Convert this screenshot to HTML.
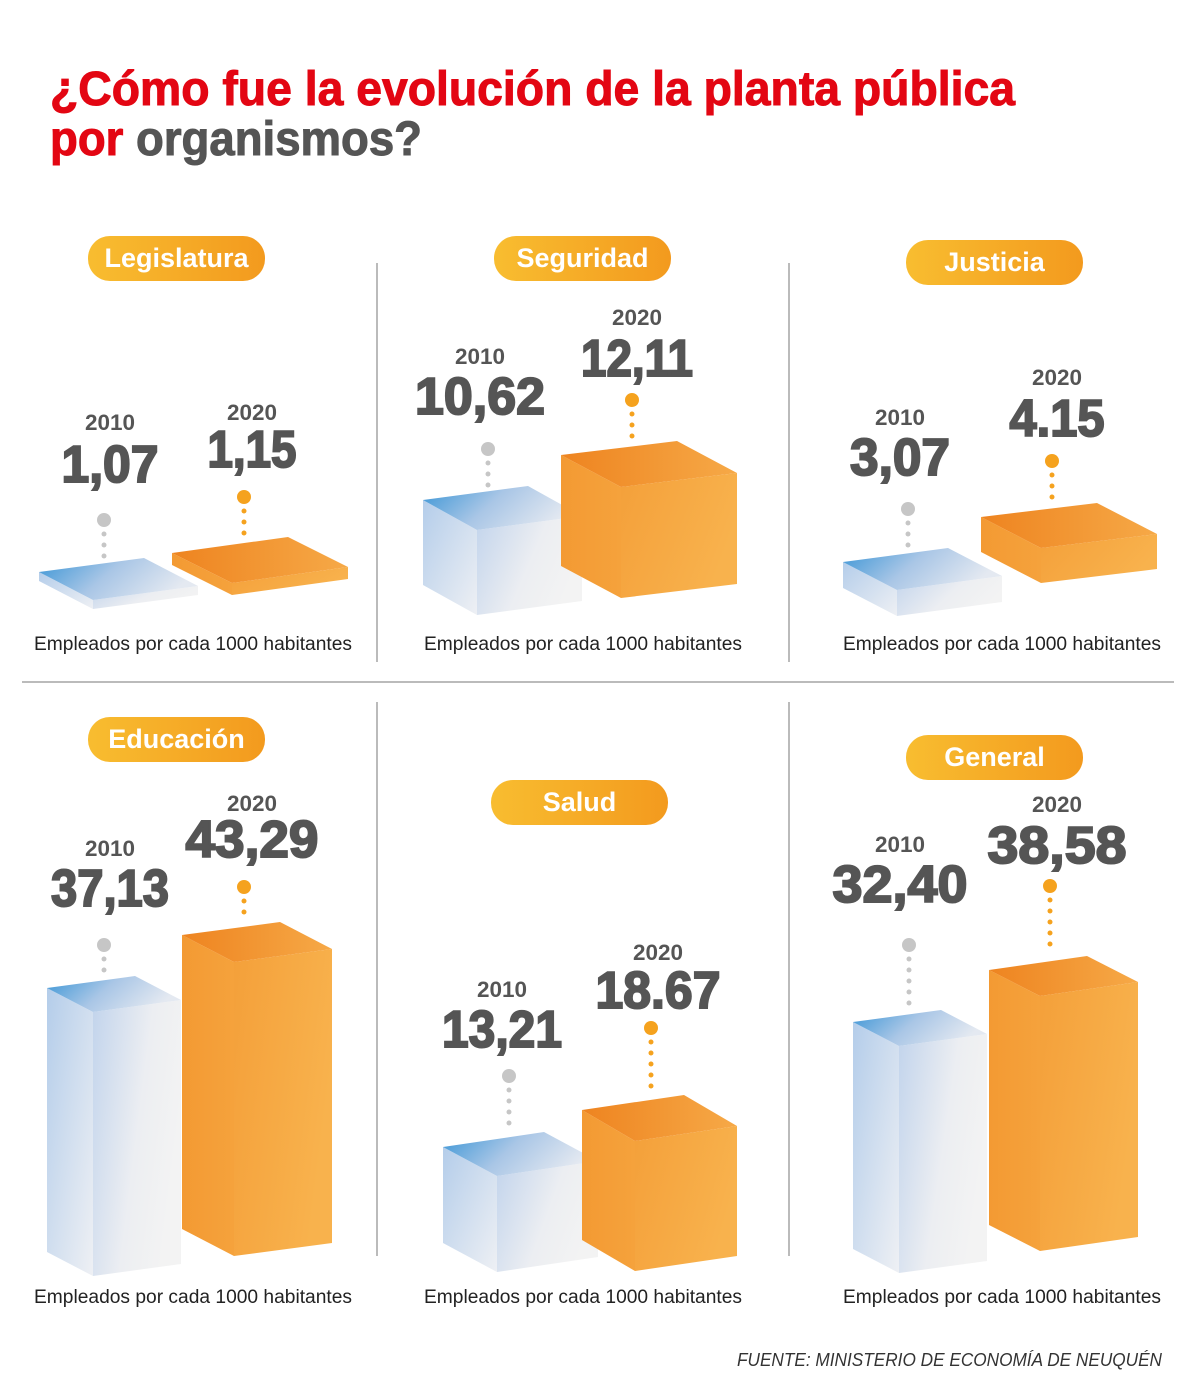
<!DOCTYPE html>
<html><head><meta charset="utf-8"><style>
html,body{margin:0;padding:0;background:#fff}
svg{display:block}
text{font-family:"Liberation Sans",sans-serif}
</style></head><body>
<svg id="s" width="1200" height="1392" viewBox="0 0 1200 1392" xmlns="http://www.w3.org/2000/svg">
<defs>
<linearGradient id="pill" x1="0" x2="1"><stop offset="0" stop-color="#f8bd30"/><stop offset="1" stop-color="#f39a1e"/></linearGradient>
<linearGradient id="bt" x1="0" x2="1" y1="0" y2="0.3"><stop offset="0" stop-color="#3a95d6"/><stop offset="0.5" stop-color="#a9c6e6"/><stop offset="1" stop-color="#e4e9f1"/></linearGradient>
<linearGradient id="bl" x1="0" x2="1" y1="0" y2="1"><stop offset="0" stop-color="#b4cdea"/><stop offset="1" stop-color="#eef0f4"/></linearGradient>
<linearGradient id="bf" x1="0" x2="1" y1="0" y2="0.4"><stop offset="0" stop-color="#c2d4ec"/><stop offset="0.6" stop-color="#eceef2"/><stop offset="1" stop-color="#f3f3f3"/></linearGradient>
<linearGradient id="ot" x1="0" x2="1"><stop offset="0" stop-color="#ee8420"/><stop offset="1" stop-color="#f6a947"/></linearGradient>
<linearGradient id="ol" x1="0" x2="1"><stop offset="0" stop-color="#f39a33"/><stop offset="1" stop-color="#f5a23c"/></linearGradient>
<linearGradient id="of" x1="0" x2="1" y1="0" y2="0.4"><stop offset="0" stop-color="#f4a03a"/><stop offset="1" stop-color="#f8b24d"/></linearGradient>
</defs>
<text x="50" y="105" font-size="48" font-weight="bold" fill="#e30613" stroke="#e30613" stroke-width="1" textLength="965" lengthAdjust="spacingAndGlyphs">¿Cómo fue la evolución de la planta pública</text>
<text x="50" y="155" font-size="48" font-weight="bold" stroke-width="1" textLength="372" lengthAdjust="spacingAndGlyphs"><tspan fill="#e30613" stroke="#e30613">por </tspan><tspan fill="#555" stroke="#555">organismos?</tspan></text>
<g stroke="#777" stroke-width="1">
<line x1="377" y1="263" x2="377" y2="662"/><line x1="789" y1="263" x2="789" y2="662"/>
<line x1="22" y1="682" x2="1174" y2="682"/>
<line x1="377" y1="702" x2="377" y2="1256"/><line x1="789" y1="702" x2="789" y2="1256"/>
</g>
<g id="g"></g>
<text x="1162" y="1366" font-size="18" font-style="italic" fill="#333" text-anchor="end" textLength="425" lengthAdjust="spacingAndGlyphs">FUENTE: MINISTERIO DE ECONOMÍA DE NEUQUÉN</text>
</svg>
<script>
var g=document.getElementById('g'),h='';
function pill(x1,y1,t){var w=177;h+='<rect x="'+x1+'" y="'+y1+'" width="'+w+'" height="45" rx="22" fill="url(#pill)"/><text x="'+(x1+w/2)+'" y="'+(y1+31)+'" font-size="27" font-weight="bold" fill="#fff" text-anchor="middle">'+t+'</text>';}
function L2(cx,yy,yr,v,vy,vw){h+='<text x="'+cx+'" y="'+yy+'" font-size="22" font-weight="bold" fill="#555" text-anchor="middle" textLength="50" lengthAdjust="spacingAndGlyphs">'+yr+'</text><text x="'+cx+'" y="'+vy+'" font-size="52" font-weight="bold" fill="#555" stroke="#555" stroke-width="2" text-anchor="middle" textLength="'+vw+'" lengthAdjust="spacingAndGlyphs">'+v+'</text>';}
function dot(x,y,y2,o){var c=o?'#f5a21e':'#c6c6c6';h+='<circle cx="'+x+'" cy="'+y+'" r="7" fill="'+c+'"/>';for(var yy=y+14;yy<=y2;yy+=11)h+='<circle cx="'+x+'" cy="'+yy+'" r="2.5" fill="'+c+'"/>';}
function box(L,T,ax,ay,bx,by,H,o){var F=[L+ax,T+ay],R=[F[0]+bx,F[1]+by],B=[L+bx,T+by];function p(a){return a.map(function(q){return q[0]+','+q[1]}).join(' ')}
var t=o?'o':'b';
h+='<polygon points="'+p([[L,T],F,[F[0],F[1]+H],[L,T+H]])+'" fill="url(#'+t+'l)"/>';
h+='<polygon points="'+p([F,R,[R[0],R[1]+H],[F[0],F[1]+H]])+'" fill="url(#'+t+'f)"/>';
h+='<polygon points="'+p([[L,T],F,R,B])+'" fill="url(#'+t+'t)"/>';}
function cap(cx,y){h+='<text x="'+cx+'" y="'+y+'" font-size="19" fill="#222" text-anchor="middle" textLength="318" lengthAdjust="spacingAndGlyphs">Empleados por cada 1000 habitantes</text>';}
pill(88,236,'Legislatura');pill(494,236,'Seguridad');pill(906,240,'Justicia');
pill(88,717,'Educación');pill(491,780,'Salud');pill(906,735,'General');
L2(110,430,'2010','1,07',482,97);L2(252,420,'2020','1,15',467,89);
L2(480,364,'2010','10,62',414,130);L2(637,325,'2020','12,11',376,112);
L2(900,425,'2010','3,07',475,100);L2(1057,385,'2020','4.15',436,95);
L2(110,856,'2010','37,13',906,118);L2(252,811,'2020','43,29',857,133);
L2(502,997,'2010','13,21',1047,120);L2(658,960,'2020','18.67',1008,125);
L2(900,852,'2010','32,40',902,135);L2(1057,812,'2020','38,58',863,139);
dot(104,520,557,0);dot(244,497,535,1);dot(488,449,487,0);dot(632,400,438,1);
dot(908,509,547,0);dot(1052,461,499,1);dot(104,945,976,0);dot(244,887,921,1);
dot(509,1076,1133,0);dot(651,1028,1095,1);dot(909,945,1009,0);dot(1050,886,954,1);
box(39,572,54,28,105,-14,9,0);box(172,553,60,30,116,-16,12,1);
box(423,500,54,30,105,-14,85,0);box(561,455,60,32,116,-14,111,1);
box(843,562,54,28,105,-14,26,0);box(981,517,60,31,116,-14,35,1);
box(47,988,46,24,88,-12,264,0);box(182,935,52,27,98,-13,294,1);
box(443,1147,54,29,101,-15,96,0);box(582,1110,53,31,102,-15,130,1);
box(853,1022,46,24,88,-12,227,0);box(989,970,51,26,98,-14,255,1);
cap(193,650);cap(583,650);cap(1002,650);cap(193,1303);cap(583,1303);cap(1002,1303);
g.innerHTML=h;
</script>
</body></html>
